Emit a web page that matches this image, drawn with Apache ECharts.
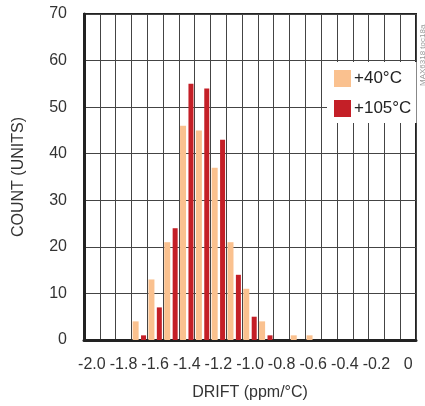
<!DOCTYPE html>
<html>
<head>
<meta charset="utf-8">
<script src="https://cdn.jsdelivr.net/npm/echarts@6/dist/echarts.min.js"></script>
<style>
html,body{margin:0;padding:0;background:#fff;}
#chart{width:425px;height:406px;}
</style>
</head>
<body>
<div id="chart"></div>
<script>
var categories = ['-2.0','-1.9','-1.8','-1.7','-1.6','-1.5','-1.4','-1.3','-1.2','-1.1','-1.0','-0.9','-0.8','-0.7','-0.6','-0.5','-0.4','-0.3','-0.2','-0.1','0'];
var count40 = [0,0,0,4,13,21,46,45,37,21,11,4,0,1,1,0,0,0,0,0,0];
var count105 = [0,0,0,1,7,24,55,54,43,14,5,1,0,0,0,0,0,0,0,0,0];
var seriesNames = ['+40°C', '+105°C'];
var yTicks = [0,10,20,30,40,50,60,70];

var FONT = '"Liberation Sans", Arial, sans-serif';
var FS = 16;
var chart = echarts.init(document.getElementById('chart'), null, {renderer: 'canvas'});
chart.setOption({
  animation: false,
  backgroundColor: '#fff',
  grid: {left: 84, top: 14, right: 9, bottom: 61, show: true, borderColor: '#222', borderWidth: 2, containLabel: false},
  legend: {
    data: seriesNames,
    orient: 'vertical',
    left: 327, top: 62,
    itemWidth: 17, itemHeight: 17, itemGap: 13,
    icon: 'rect',
    backgroundColor: '#fff',
    padding: [8, 5, 6, 7],
    textStyle: {fontFamily: FONT, fontSize: FS + 1, color: '#222', padding: [0,0,0,-2]}
  },
  xAxis: {
    type: 'category',
    data: categories,
    boundaryGap: true,
    name: 'DRIFT (ppm/°C)',
    nameLocation: 'middle',
    nameGap: 45,
    nameTextStyle: {fontFamily: FONT, fontSize: FS, color: '#333'},
    axisLine: {show: true, lineStyle: {color: '#222', width: 3}},
    axisTick: {show: false},
    axisLabel: {interval: 1, margin: 17, fontFamily: FONT, fontSize: FS, color: '#333'},
    splitLine: {show: true, interval: 0, lineStyle: {color: '#444', width: 1}}
  },
  yAxis: {
    type: 'value',
    min: 0, max: 70, interval: 10,
    name: 'COUNT (UNITS)',
    nameLocation: 'middle',
    nameGap: 57,
    nameTextStyle: {fontFamily: FONT, fontSize: FS, color: '#333'},
    axisLine: {show: true, lineStyle: {color: '#222', width: 3}},
    axisTick: {show: false},
    axisLabel: {margin: 17, fontFamily: FONT, fontSize: FS, color: '#333',
      formatter: function(v){ return yTicks.indexOf(v) >= 0 ? String(v) : ''; }},
    splitLine: {show: true, lineStyle: {color: '#444', width: 1}}
  },
  series: [
    {name: seriesNames[0], type: 'bar', data: count40, barWidth: 6, barGap: '40%', itemStyle: {color: '#FAC18F'}},
    {name: seriesNames[1], type: 'bar', data: count105, barWidth: 5, barGap: '40%', itemStyle: {color: '#C41F27'}}
  ],
  graphic: [{
    type: 'text',
    x: 419, y: 86,
    rotation: Math.PI / 2,
    style: {text: 'MAX6318 toc18a', font: '8px ' + FONT, fill: '#999', textVerticalAlign: 'top'}
  }]
});
</script>
</body>
</html>
